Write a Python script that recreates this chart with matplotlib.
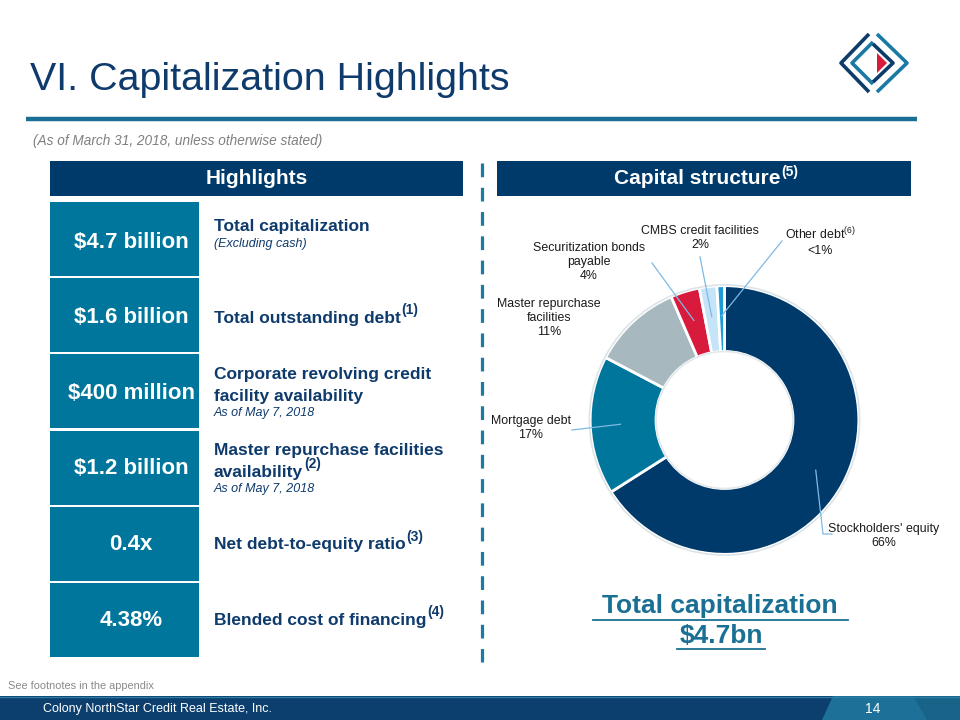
import matplotlib
matplotlib.use('Agg')
import matplotlib.pyplot as plt
from matplotlib.patches import Rectangle, Polygon, Circle
from matplotlib import font_manager
import numpy as np

plt.rcParams['font.family'] = ['Liberation Sans', 'DejaVu Sans']
plt.rcParams['mathtext.fontset'] = 'custom'
plt.rcParams['mathtext.rm'] = 'Liberation Sans'
plt.rcParams['mathtext.it'] = 'Liberation Sans:italic'
plt.rcParams['mathtext.bf'] = 'Liberation Sans:bold'

_names = {f.name for f in font_manager.fontManager.ttflist}
NARROW = 'Liberation Sans Narrow' if 'Liberation Sans Narrow' in _names else 'Liberation Sans'
HAS_NARROW = NARROW == 'Liberation Sans Narrow'

# ---------------- data ----------------
segments = ["Stockholders' equity", "Mortgage debt", "Master repurchase\nfacilities",
            "Securitization bonds\npayable", "CMBS credit facilities", "Other debt$^{(6)}$"]
shares = [66.0, 16.7, 10.8, 3.5, 2.1, 0.9]
share_labels = ["66%", "17%", "11%", "4%", "2%", "<1%"]
colors = ["#003a6b", "#00769c", "#a7b9bf", "#d81a3c", "#c6e4f7", "#1e9bd7"]

highlight_values = ["$4.7 billion", "$1.6 billion", "$400 million", "$1.2 billion", "0.4x", "4.38%"]
highlight_titles = ["Total capitalization", "Total outstanding debt",
                    "Corporate revolving credit\nfacility availability",
                    "Master repurchase facilities\navailability",
                    "Net debt-to-equity ratio", "Blended cost of financing"]
highlight_notes = ["(Excluding cash)", "", "As of May 7, 2018", "As of May 7, 2018", "", ""]
highlight_refs = ["", "(1)", "", "(2)", "(3)", "(4)"]

NAVY = "#0e3a6c"
TEAL = "#00769c"
DTEAL = "#1a6f94"

fig = plt.figure(figsize=(9.6, 7.2), dpi=100)
bg = fig.add_axes([0, 0, 1, 1])
bg.set_xlim(0, 960)
bg.set_ylim(720, 0)
bg.axis('off')

# ---------------- title & logo ----------------
bg.text(30, 90, "VI. Capitalization Highlights", fontsize=28.4, color=NAVY, va='baseline', ha='left')
bg.plot([869, 841, 869], [34, 63, 92], color="#0d3b6a", lw=2.6, solid_capstyle='butt')
bg.plot([873, 852, 873], [42, 63, 84], color="#1b7aa3", lw=2.6, solid_capstyle='butt')
bg.plot([873, 893, 873], [44, 63, 82], color="#0d3b6a", lw=2.6, solid_capstyle='butt')
bg.plot([877, 907, 877], [34, 63, 92], color="#1b7aa3", lw=2.6, solid_capstyle='butt')
bg.add_patch(Polygon([(877, 53), (887, 63), (877, 73)], closed=True, color="#d81a3c", lw=0))

# rule
bg.plot([26, 917], [119, 119], color="#1a6f94", lw=3.2, solid_capstyle='butt')
bg.text(33, 141, "(As of March 31, 2018, unless otherwise stated)", fontsize=(11 if HAS_NARROW else 9.8),
        style='italic', color="#7f7f7f", va='center', ha='left', family=[NARROW, 'DejaVu Sans'])

# header bars
bg.add_patch(Rectangle((50, 161), 413, 35, color="#003a6b", lw=0))
bg.text(256.5, 179, "Highlights", fontsize=15, fontweight='bold', color='white', ha='center', va='center')
bg.add_patch(Rectangle((497, 161), 414, 35, color="#003a6b", lw=0))
hdr = bg.text(697, 179, "Capital structure", fontsize=15, fontweight='bold', color='white', ha='center', va='center')
bg.annotate("(5)", xy=(1, 0.5), xycoords=hdr, xytext=(1, 5), textcoords='offset points',
            fontsize=10, fontweight='bold', color='white', ha='left', va='center')

# dashed divider
bg.plot([481.5, 481.5], [163, 662], color="#1b7aa3", lw=2.3, dashes=(4.3, 3.3), dash_capstyle='butt')

# ---------------- highlight boxes ----------------
title_y = [227, 318, 385.5, 461.5, 545, 620]
note_y = [244, None, 413, 489, None, None]
for i, (val, ttl, note, ref) in enumerate(zip(highlight_values, highlight_titles, highlight_notes, highlight_refs)):
    top = 202 + i * 76.2
    bg.add_patch(Rectangle((50, top), 149, 74, color=TEAL, lw=0))
    bg.text(131, 242 + i * 75.6, val, fontsize=16, fontweight='bold', color='white', ha='center', va='center')
    lines = ttl.split('\n')
    n = len(lines)
    t = None
    for k, ln in enumerate(lines):
        y = title_y[i] + (k - (n - 1) / 2) * 21
        t = bg.text(214, y, ln, fontsize=12.5, fontweight='bold', color=NAVY, ha='left', va='center')
    if ref:
        bg.annotate(ref, xy=(1, 0.5), xycoords=t, xytext=(0.5, 6), textcoords='offset points',
                    fontsize=10, fontweight='bold', color=NAVY, ha='left', va='center')
    if note:
        bg.text(214, note_y[i], note, fontsize=9, style='italic', color=NAVY, ha='left', va='center')

# ---------------- donut ----------------
cx, cy, R = 724.5, 420.0, 137.0
pax = fig.add_axes([(cx - R) / 960, 1 - (cy + R) / 720, 2 * R / 960, 2 * R / 720])
pax.pie(shares, colors=colors, startangle=90, counterclock=False, radius=1.0,
        wedgeprops=dict(width=0.49, edgecolor='white', linewidth=2.0))
pax.add_patch(Circle((0, 0), 1.006, fill=False, edgecolor="#dde4e8", lw=1.2))
pax.add_patch(Circle((0, 0), 0.51, fill=False, edgecolor="#e3e8eb", lw=1.2))
pax.set_xlim(-1.02, 1.02)
pax.set_ylim(-1.02, 1.02)
pax.set_aspect('equal')
pax.axis('off')

# labels
label_top = [(884, 523), (531, 415), (549, 298), (589, 242), (700, 225), (820, 226)]
for name, pct, (lx, ly) in zip(segments, share_labels, label_top):
    bg.text(lx, ly, name + "\n" + pct, fontsize=8.9, color='#1a1a1a', ha='center', va='top',
            linespacing=1.22)

# leader lines from wedge middles
total = sum(shares)
cum = np.concatenate([[0], np.cumsum(shares)])
mid_deg = (cum[:-1] + cum[1:]) / 2 / total * 360
leader_ends = [[(823, 534), (832, 534)], [(572, 430)], None, [(652, 263)], [(700, 257)], [(782, 241)]]
for ang, ends in zip(mid_deg, leader_ends):
    if ends is None:
        continue
    th = np.deg2rad(ang)
    ax0 = cx + 0.76 * R * np.sin(th)
    ay0 = cy - 0.76 * R * np.cos(th)
    xs = [ax0] + [e[0] for e in ends]
    ys = [ay0] + [e[1] for e in ends]
    bg.plot(xs, ys, color="#7fb9e3", lw=0.9, zorder=5)
bg.set_zorder(1)
pax.set_zorder(0)
bg.patch.set_alpha(0)

# total capitalization
bg.text(720, 613, "Total capitalization", fontsize=19, fontweight='bold', color=DTEAL, ha='center', va='baseline')
bg.plot([593, 848], [619.5, 619.5], color=DTEAL, lw=1.3)
bg.text(721, 643, "$4.7bn", fontsize=19, fontweight='bold', color=DTEAL, ha='center', va='baseline')
bg.plot([677, 765], [649, 649], color=DTEAL, lw=1.3)

# ---------------- footer ----------------
bg.text(8, 686, "See footnotes in the appendix", fontsize=(9 if HAS_NARROW else 7.9), color="#8a8a8a",
        ha='left', va='center', family=[NARROW, 'DejaVu Sans'])
bg.add_patch(Rectangle((0, 696), 960, 24, color="#0d3f6e", lw=0))
bg.add_patch(Polygon([(833, 696), (960, 696), (960, 720), (822, 720)], closed=True, color="#1d7198", lw=0))
bg.add_patch(Polygon([(913, 696), (960, 696), (960, 720), (927, 720)], closed=True, color="#186489", lw=0))
bg.plot([0, 960], [696.5, 696.5], color="#2b7ea3", lw=1)
bg.text(43, 709, "Colony NorthStar Credit Real Estate, Inc.", fontsize=(10.5 if HAS_NARROW else 9),
        color='white', ha='left', va='center', family=[NARROW, 'DejaVu Sans'])
bg.text(873, 709, "14", fontsize=10, color='white', ha='center', va='center', family=[NARROW, 'DejaVu Sans'])

fig.savefig("out.png", dpi=100, facecolor='white')
